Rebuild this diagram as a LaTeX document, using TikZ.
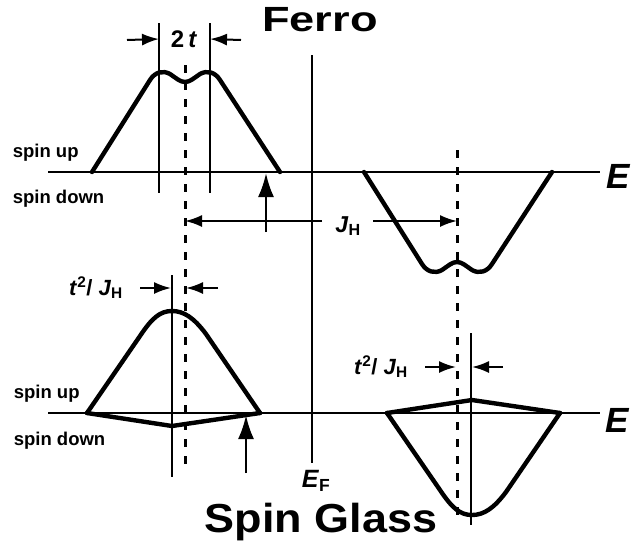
\documentclass[tikz,border=0pt]{standalone}
\usepackage{fontspec}
\setmainfont{Liberation Sans}
\usetikzlibrary{arrows.meta}
\tikzset{
  every picture/.style={x=1pt, y=-1pt, line width=1.6pt},
  axis/.style={line width=2pt},
  band/.style={line width=4.4pt, line join=round, line cap=round},
  guide/.style={line width=1.6pt},
  centre/.style={line width=3pt, dash pattern=on 8pt off 9pt},
  dim/.style={-{Latex[length=17pt, width=12pt]}, line width=2pt},
  kick/.style={-{Latex[length=24pt, width=16pt]}, line width=2.6pt},
  title/.style={font=\bfseries\fontsize{#1}{#1}\selectfont, inner sep=0pt},
  spin/.style={font=\bfseries\fontsize{18.5}{22}\selectfont, anchor=base west, inner sep=0pt},
  lbl/.style={font=\bfseries\fontsize{#1}{#1}\selectfont, inner sep=0pt},
  lbl/.default=22,
}

\begin{document}
\begin{tikzpicture}
  \useasboundingbox (0,0) rectangle (634,550);
  \node[title=35] (ferro) at (320,20) {\scalebox{1.29}[1]{Ferro}};
  \node[title=40.5] (glass) at (321,522) {\scalebox{1.11}[1]{Spin Glass}};
  % Fermi level
  \draw[guide] (312,55) coordinate (eftop) -- (312,463) coordinate (efbot);
  \node[lbl=25] (ef) at (316,481) {\textit{E}\textsubscript{F}};

  % ferromagnet
  \draw[axis] (48,172) -- (600,172);
  \node[lbl=35, anchor=west] (e1) at (606,176) {\textit{E}};
  \node[spin] (up1) at (12,157) {spin up};
  \node[spin] (dn1) at (12,203) {spin down};
  \draw[band] (92,172) -- (150,80) .. controls (155,72) and (163,70) .. (170,74)
    .. controls (176,78) and (180,82) .. (185,82) .. controls (190,82) and (194,78) .. (200,74)
    .. controls (207,70) and (215,72) .. (220,80) -- (280,172);
  \draw[band] (364,172) -- (422,264) .. controls (427,272) and (435,274) .. (442,270)
    .. controls (448,266) and (452,262) .. (457,262) .. controls (462,262) and (466,266) .. (472,270)
    .. controls (479,274) and (487,272) .. (492,264) -- (552,172);
  \draw[guide] (159,23) coordinate (wl) -- (159,193);
  \draw[guide] (210,23) coordinate (wr) -- (210,193);
  \node[lbl=24] (twot) at (184,39) {2\,\textit{t}};
  \draw[dim] (127,40) -- (wl |- twot.center);
  \draw[dim] (241,40) -- (wr |- twot.center);
  \draw[centre] (185,65) coordinate (cl) -- (185,465);
  \draw[centre] (457,150) coordinate (cr) -- (457,520);
  \node[lbl=23] (jh) at (348,226) {\textit{J}\textsubscript{H}};
  \coordinate (jl) at (322,221);
  \coordinate (jr) at (373,221);
  \draw[dim] (jl) -- (cl |- jl);
  \draw[dim] (jr) -- (cr |- jr);
  \draw[kick] (266,232) -- (266,173);

  % spin glass
  \draw[axis] (48,413) -- (600,413);
  \node[lbl=35, anchor=west] (e2) at (605,420) {\textit{E}};
  \node[spin] (up2) at (13,398) {spin up};
  \node[spin] (dn2) at (13,445) {spin down};
  \draw[band] (87,413) -- (140,336) .. controls (152,318) and (160,311) .. (172,311)
    .. controls (184,311) and (194,318) .. (206,334) -- (260,413);
  \draw[band] (87,413) -- (172,426) -- (260,413);
  \draw[guide] (172,275) coordinate (gl) -- (172,477);
  \draw[kick] (246,473) -- (246,415);
  \node[lbl] (tl) at (96,288) {\textit{t}\textsuperscript{2}/ \textit{J}\textsubscript{H}};
  \draw[dim] (140,288) -- ([xshift=-1pt]gl |- tl.center);
  \draw[dim] (218,288) -- ([xshift=1pt]cl |- tl.center);

  \draw[band] (387,413) -- (440,490) .. controls (452,508) and (460,515) .. (472,515)
    .. controls (484,515) and (494,508) .. (506,492) -- (560,413);
  \draw[band] (387,413) -- (472,400) -- (560,413);
  \draw[guide] (471,333) coordinate (gr) -- (471,525);
  \node[lbl] (tr) at (381,367) {\textit{t}\textsuperscript{2}/ \textit{J}\textsubscript{H}};
  \draw[dim] (425,367) -- ([xshift=-1pt]cr |- tr.center);
  \draw[dim] (503,367) -- ([xshift=1pt]gr |- tr.center);
\end{tikzpicture}
\end{document}
